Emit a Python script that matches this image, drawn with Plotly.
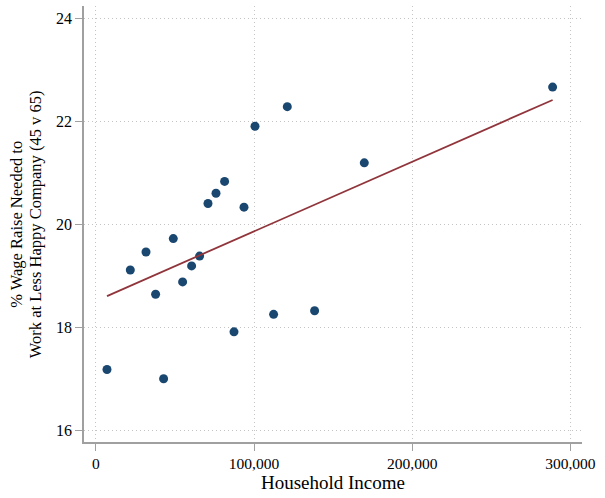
import numpy as np
import plotly.graph_objects as go

income = [7080, 42860, 21810, 31730, 37800, 48990, 54870, 60560, 65610, 70920,
          75980, 81420, 93680, 100630, 87360, 112390, 121050, 138310, 169720, 288750]
raise_pct = [17.18, 17.00, 19.11, 19.46, 18.64, 19.72, 18.88, 19.19, 19.38, 20.40,
             20.60, 20.83, 20.33, 21.90, 17.91, 18.25, 22.28, 18.32, 21.19, 22.66]

# linear fit (estimated on underlying data)
fit_intercept = 18.509
fit_slope = 1.351e-5

x_ticks = [0, 100000, 200000, 300000]
x_tick_labels = ["0", "100,000", "200,000", "300,000"]
y_ticks = [16, 18, 20, 22, 24]

fit_x = np.array([min(income), max(income)])
fit_y = fit_intercept + fit_slope * fit_x

FONT = "Liberation Serif"
AXIS_COLOR = "#a0a0a0"
GRID_COLOR = "#c4c4c4"

fig = go.Figure()
fig.add_trace(go.Scatter(x=income, y=raise_pct, mode="markers",
                         marker=dict(color="#1a476f", size=9, line=dict(width=0)),
                         showlegend=False))
fig.add_trace(go.Scatter(x=fit_x, y=fit_y, mode="lines",
                         line=dict(color="#90353b", width=1.8), showlegend=False))

fig.update_layout(
    width=605, height=498,
    margin=dict(l=84, r=23, t=6, b=56),
    plot_bgcolor="white", paper_bgcolor="white",
    font=dict(family=FONT, size=15.5, color="black"),
    xaxis=dict(range=[-7459, 307330], tickvals=x_ticks, ticktext=x_tick_labels,
               automargin=False,
               showline=True, linecolor=AXIS_COLOR, linewidth=1.5,
               ticks="outside", ticklen=7, tickcolor=AXIS_COLOR, tickwidth=1.2,
               showgrid=True, gridcolor=GRID_COLOR, griddash="1px,3px", gridwidth=1,
               zeroline=False, tickfont=dict(size=15.5),
               title=dict(text="Household Income", font=dict(size=19), standoff=3)),
    yaxis=dict(range=[15.773, 24.233], tickvals=y_ticks,
               automargin=False,
               showline=True, linecolor=AXIS_COLOR, linewidth=1.5,
               ticks="outside", ticklen=7, tickcolor=AXIS_COLOR, tickwidth=1.2,
               showgrid=True, gridcolor=GRID_COLOR, griddash="1px,3px", gridwidth=1,
               zeroline=False, tickfont=dict(size=16)),
    annotations=[
        dict(text="% Wage Raise Needed to", textangle=-90, xref="paper", yref="paper",
             x=-0.137, y=0.5, xanchor="center", yanchor="middle", showarrow=False,
             font=dict(size=16.5)),
        dict(text="Work at Less Happy Company (45 v 65)", textangle=-90, xref="paper",
             yref="paper", x=-0.098, y=0.5, xanchor="center", yanchor="middle",
             showarrow=False, font=dict(size=16.5)),
    ],
)

fig.write_html("out.html", config={"displayModeBar": False},
               post_script="document.body.style.margin='0px';document.body.style.padding='0px';")
